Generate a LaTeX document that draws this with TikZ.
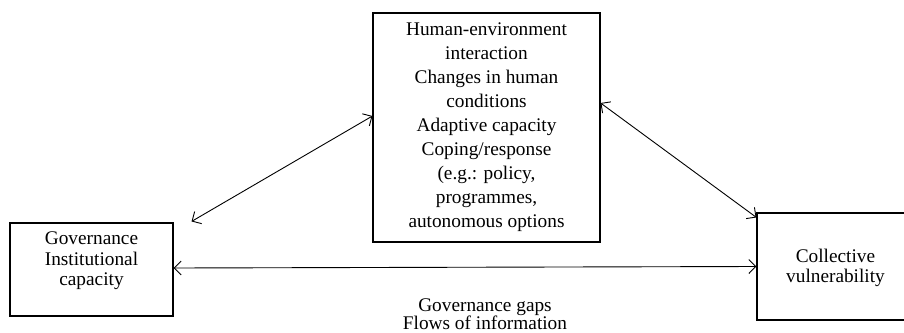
\documentclass[tikz,border=0pt]{standalone}
\usepackage{fontspec}
\setmainfont{Liberation Serif}
\usetikzlibrary{arrows.meta,positioning}

\begin{document}
\begin{tikzpicture}[
    x=1pt, y=-1pt,
    block/.style={draw, line width=1.1pt, align=center, inner sep=0pt,
        font=\fontsize{19.3}{20}\selectfont},
    arrow/.style={{Straight Barb[length=7pt,width=14pt]}-{Straight Barb[length=7pt,width=14pt]}, line width=0.9pt}
]
\useasboundingbox (0,0) rectangle (904,332);
\node[block, minimum width=163pt, minimum height=93pt, text depth=21pt,
    font=\fontsize{19.3}{20.5}\selectfont] (gov) at (91.5,269.5) {Governance\\Institutional\\capacity};
\node[block, minimum width=227pt, minimum height=229pt,
    font=\fontsize{19.3}{24}\selectfont] (human) at (486.5,127.5)
    {Human-environment\\interaction\\Changes in human\\conditions\\Adaptive capacity\\Coping/response\\(e.g.: policy,\\programmes,\\autonomous options};
\node[block, minimum width=157pt, minimum height=107pt, text height=36.5pt] (coll) at (835.5,266.5) {Collective\\vulnerability};
\node[align=center, inner sep=0pt, font=\fontsize{19.3}{18.5}\selectfont] (gaps) at (485,314) {Governance gaps\\Flows of information};
\draw[arrow] ([shift={(18pt,1pt)}]gov.north east) -- ([yshift=11.5pt]human.west);
\draw[arrow] ([yshift=24.5pt]human.east) -- ([yshift=-5pt]coll.north west);
\draw[arrow] ([yshift=1.5pt]gov.east) -- (coll.west);
\end{tikzpicture}
\end{document}
